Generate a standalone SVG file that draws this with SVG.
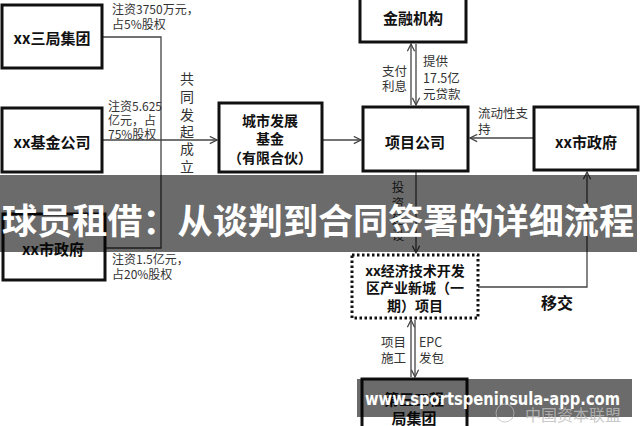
<svg xmlns="http://www.w3.org/2000/svg" width="640" height="426" viewBox="0 0 640 426">
<style>
.box{fill:#fff;stroke:#111;stroke-width:3}
.dot{fill:#fff;stroke:#111;stroke-width:3;stroke-dasharray:2.5 2.5}
.bt{font-family:"Noto Sans CJK SC","Noto Sans",sans-serif;font-weight:bold;font-size:15px;fill:#111;text-anchor:middle;dominant-baseline:central}
.lb{font-family:"Noto Sans CJK SC","Noto Sans",sans-serif;font-size:12px;fill:#333;dominant-baseline:central}
.lr{font-family:"Noto Sans CJK SC","Noto Sans",sans-serif;font-size:12.5px;fill:#333;dominant-baseline:central}
.vt{font-family:"Noto Sans CJK SC","Noto Sans",sans-serif;font-size:14px;fill:#333;text-anchor:middle;dominant-baseline:central}
.ln{stroke:#444;stroke-width:1.3;fill:none}
.ar{stroke:#444;stroke-width:1.3;fill:none;marker-end:url(#ah)}
</style>
<defs>
<marker id="ah" viewBox="0 0 10 10" refX="9" refY="5" markerWidth="9" markerHeight="9" markerUnits="userSpaceOnUse" orient="auto">
<path d="M1,1 L9,5 L1,9" fill="none" stroke="#444" stroke-width="1.4"/>
</marker>
</defs>
<rect width="640" height="426" fill="#fff"/>

<g id="connectors">
<path class="ln" d="M102,37 H161 V248 H105"/>
<path class="ln" d="M102,140 H161"/>
<path class="ar" d="M161,140 H217"/>
<path class="ar" d="M322,140 H361"/>
<path class="ar" d="M411,105 V44"/>
<path class="ar" d="M416,44 V105"/>
<path class="ar" d="M533,138 H470"/>
<path class="ar" d="M416,171 V253"/>
<path class="ar" d="M478,287 H587 V172"/>
<path class="ar" d="M411,377 V320"/>
<path class="ar" d="M415,320 V377"/>
</g>

<g id="labels">
<text class="lb" x="112" y="8">注资3750万元，</text>
<text class="lb" x="112" y="23">占5%股权</text>
<text class="lb" x="108" y="105">注资5.625</text>
<text class="lb" x="108" y="119">亿元，占</text>
<text class="lb" x="108" y="133">75%股权</text>
<text class="lb" x="112" y="258">注资1.5亿元，</text>
<text class="lb" x="112" y="273">占20%股权</text>
<text class="vt" x="187" y="78">共</text>
<text class="vt" x="187" y="96">同</text>
<text class="vt" x="187" y="114">发</text>
<text class="vt" x="187" y="131">起</text>
<text class="vt" x="187" y="148">成</text>
<text class="vt" x="187" y="166">立</text>
<text class="lr" x="407" y="70" text-anchor="end">支付</text>
<text class="lr" x="407" y="85" text-anchor="end">利息</text>
<text class="lr" x="423" y="60">提供</text>
<text class="lr" x="423" y="77">17.5亿</text>
<text class="lr" x="423" y="93">元贷款</text>
<text class="lr" x="478" y="112">流动性支</text>
<text class="lr" x="478" y="128">持</text>
<text class="lr" x="398" y="186" text-anchor="middle">投</text>
<text class="lr" x="398" y="202" text-anchor="middle">资</text>
<text class="lr" x="398" y="218" text-anchor="middle">建</text>
<text class="lr" x="398" y="234" text-anchor="middle">设</text>
<text class="lr" x="406" y="341" text-anchor="end">项目</text>
<text class="lr" x="406" y="357" text-anchor="end">施工</text>
<text class="lr" x="419" y="341">EPC</text>
<text class="lr" x="419" y="357">发包</text>
<text class="bt" x="557" y="302" style="font-size:16px">移交</text>
</g>

<g id="n-sanju"><rect class="box" x="2" y="5" width="100" height="63"/><text class="bt" x="52" y="37">xx三局集团</text></g>
<g id="n-jijin"><rect class="box" x="2" y="108" width="100" height="64"/><text class="bt" x="52" y="141">xx基金公司</text></g>
<g id="n-shizhengfu-l"><rect class="box" x="3" y="214" width="102" height="66"/><text class="bt" x="53" y="248">xx市政府</text></g>
<g id="n-fund"><rect class="box" x="219" y="103" width="103" height="69"/><text class="bt" x="270" y="120" style="font-size:14px">城市发展</text><text class="bt" x="270" y="138" style="font-size:14px">基金</text><text class="bt" x="270" y="157" style="font-size:14px">（有限合伙）</text></g>
<g id="n-bank"><rect class="box" x="360" y="-3" width="106" height="45"/><text class="bt" x="413" y="17">金融机构</text></g>
<g id="n-company"><rect class="box" x="363" y="107" width="105" height="64"/><text class="bt" x="415" y="141">项目公司</text></g>
<g id="n-shizhengfu-r"><rect class="box" x="534" y="107" width="104" height="63"/><text class="bt" x="586" y="141">xx市政府</text></g>
<g id="n-project"><rect class="dot" x="352" y="255" width="126" height="63"/><text class="bt" x="415" y="270" style="font-size:14px">xx经济技术开发</text><text class="bt" x="415" y="287" style="font-size:14px">区产业新城（一</text><text class="bt" x="415" y="305" style="font-size:14px">期）项目</text></g>
<g id="n-bureau"><rect class="box" x="362" y="379" width="105" height="60"/><text class="bt" x="414" y="398">第三工程</text><text class="bt" x="414" y="417">局集团</text></g>

<g id="overlay">
<rect x="0" y="175" width="637" height="77" fill="#000" opacity="0.58"/>
<text x="318" y="218" text-anchor="middle" dominant-baseline="central" font-family="Noto Sans CJK SC, sans-serif" font-weight="bold" font-size="35" fill="#fff" textLength="632" lengthAdjust="spacingAndGlyphs">球员租借：从谈判到合同签署的详细流程</text>
<rect x="357" y="379" width="275" height="38" fill="#000" opacity="0.58"/>
<text x="365" y="405" font-family="DejaVu Sans, sans-serif" font-weight="bold" font-size="18" fill="#fff" textLength="255" lengthAdjust="spacingAndGlyphs">www.sportspeninsula-app.com</text>
<circle cx="505" cy="413" r="9" fill="none" stroke="#bbb" stroke-width="1" opacity="0.7"/>
<text x="525" y="414" dominant-baseline="central" font-family="Noto Sans CJK SC, sans-serif" font-size="16" fill="#bbb" opacity="0.8">中国资本联盟</text>
</g>
</svg>
